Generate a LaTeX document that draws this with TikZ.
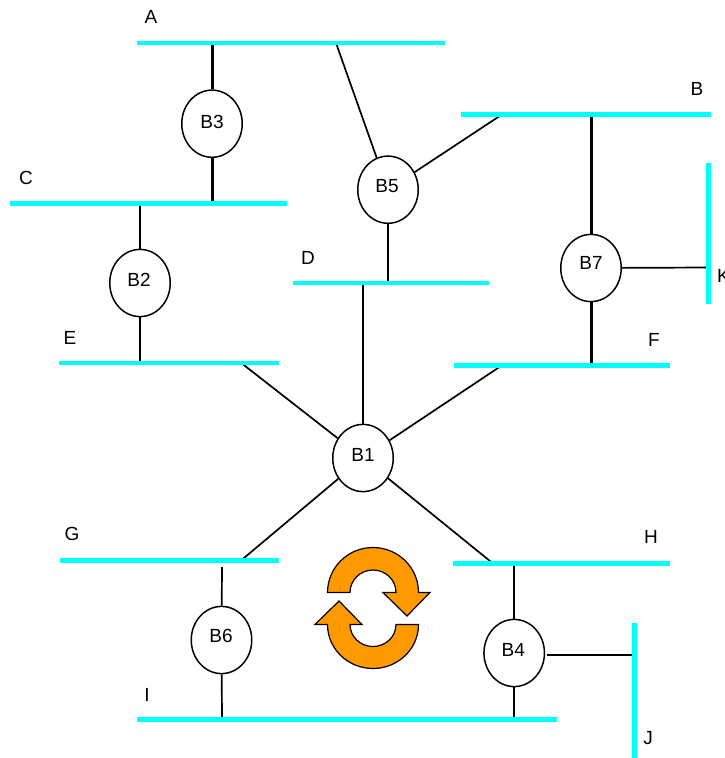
\documentclass[tikz,border=0pt]{standalone}
\usepackage{fontspec}
\setmainfont{Liberation Sans}
\usetikzlibrary{shapes.geometric,backgrounds}
\definecolor{buscyan}{RGB}{0,255,255}
\definecolor{arroworange}{RGB}{255,153,0}
\tikzset{
  hbus/.style={fill=buscyan,draw=none,rectangle,inner sep=0pt,minimum height=4.5pt},
  vbus/.style={fill=buscyan,draw=none,rectangle,inner sep=0pt,minimum width=5pt},
  bridge/.style={draw=black,fill=white,ellipse,inner sep=0pt,line width=1.5pt,minimum width=60.5pt,minimum height=67.2pt},
  lbl/.style={inner sep=0pt,font=\fontsize{19}{22}\selectfont},
  thinlink/.style={draw=black,line width=1.7pt},
  thicklink/.style={draw=black,line width=3pt},
  rotarrow/.style={draw=black,fill=arroworange,line width=1.2pt,line join=miter}
}
\begin{document}
\begin{tikzpicture}[x=1pt,y=-1pt]
\useasboundingbox (0,0) rectangle (724,758);
% buses
\node[hbus,minimum width=308pt] (A) at (291,43.2) {};
\node[hbus,minimum width=250pt] (B) at (586,114.5) {};
\node[hbus,minimum width=277pt] (C) at (148.5,203.4) {};
\node[hbus,minimum width=196pt] (D) at (391,283) {};
\node[hbus,minimum width=220pt] (E) at (169,362.8) {};
\node[hbus,minimum width=216pt] (F) at (562,365.3) {};
\node[hbus,minimum width=219pt] (G) at (169.5,560.5) {};
\node[hbus,minimum width=217pt] (H) at (561.5,563.5) {};
\node[hbus,minimum width=420pt] (I) at (347,719.5) {};
\node[vbus,minimum height=134.5pt] (J) at (634.5,690.5) {};
\node[vbus,minimum height=141pt] (K) at (708.5,233.5) {};
% bridges
\node[bridge] (B3) at (212,123.7) {};
\node[bridge] (B5) at (388,189.7) {};
\node[bridge] (B2) at (140,283) {};
\node[bridge] (B7) at (591,268) {};
\node[bridge] (B1) at (363,458) {};
\node[bridge] (B6) at (221.5,640) {};
\node[bridge] (B4) at (514.2,653) {};
% bridge captions
\node[lbl] (tB3) at (212,121.5) {B3};
\node[lbl] (tB5) at (387,186) {B5};
\node[lbl] (tB2) at (139,280) {B2};
\node[lbl] (tB7) at (591,263) {B7};
\node[lbl] (tB1) at (363,454.5) {B1};
\node[lbl] (tB6) at (221,636) {B6};
\node[lbl] (tB4) at (513.3,649.5) {B4};
% free ends of connectors
\coordinate (a5) at (336,43);
\coordinate (b5) at (502,114.5);
\coordinate (d5) at (388,283);
\coordinate (d1) at (363,283);
\coordinate (e1) at (241,362.8);
\coordinate (f1) at (502,365.3);
\coordinate (g1) at (241,560.5);
\coordinate (h1) at (493,563.5);
\coordinate (i6) at (222,719);
\coordinate (g6) at (222,567);
\coordinate (k7) at (708,267.5);
\coordinate (j4) at (634,654.7);
\coordinate (b4e) at (547,654.7);
% connectors
\begin{scope}[on background layer]
\draw[thicklink] (A.center -| B3) -- (B3);
\draw[thicklink] (B3) -- (C.center -| B3);
\draw[thinlink] (C.center -| B2) -- (B2);
\draw[thinlink] (B2) -- (E.center -| B2);
\draw[thinlink] (a5) -- (B5);
\draw[thinlink] (b5) -- (B5);
\draw[thinlink] (d5) -- (B5);
\draw[thicklink] (B.center -| B7) -- (B7);
\draw[thicklink] (B7) -- (F.center -| B7);
\draw[thinlink] (B7) -- (k7);
\draw[thinlink] (d1) -- (B1);
\draw[thinlink] (e1) -- (B1);
\draw[thinlink] (f1) -- (B1);
\draw[thinlink] (g1) -- (B1);
\draw[thinlink] (h1) -- (B1);
\draw[thinlink] (g6) -- (B6);
\draw[thinlink] (B6) -- (i6);
\draw[thinlink] (H.center -| B4) -- (B4);
\draw[thinlink] (B4) -- (I.center -| B4);
\draw[thinlink] (b4e) -- (j4);
\end{scope}
% bus labels
\node[lbl] (lA) at (151,17) {A};
\node[lbl] (lB) at (697,89) {B};
\node[lbl] (lC) at (26,178) {C};
\node[lbl] (lD) at (308,258) {D};
\node[lbl] (lE) at (70,338) {E};
\node[lbl] (lF) at (654,340) {F};
\node[lbl] (lG) at (72,534) {G};
\node[lbl] (lH) at (651,537) {H};
\node[lbl] (lI) at (147,695) {I};
\node[lbl] (lJ) at (648,738) {J};
\node[lbl,anchor=west] (lK) at (717,276) {K};
% rotation arrows
\draw[rotarrow] (327.5,592.5) arc[start angle=180,end angle=0,x radius=45.5pt,y radius=45pt] -- (430,592.5) -- (407,616) -- (383,592.5) -- (396,592.5)
  arc[start angle=0,end angle=180,x radius=23pt,y radius=22.5pt] -- cycle;
\draw[rotarrow] (418.5,624.5) arc[start angle=0,end angle=-180,x radius=45.5pt,y radius=44pt] -- (315,624.5) -- (339,601) -- (362,624.5) -- (350,624.5)
  arc[start angle=180,end angle=360,x radius=23pt,y radius=22pt] -- cycle;
\end{tikzpicture}
\end{document}
